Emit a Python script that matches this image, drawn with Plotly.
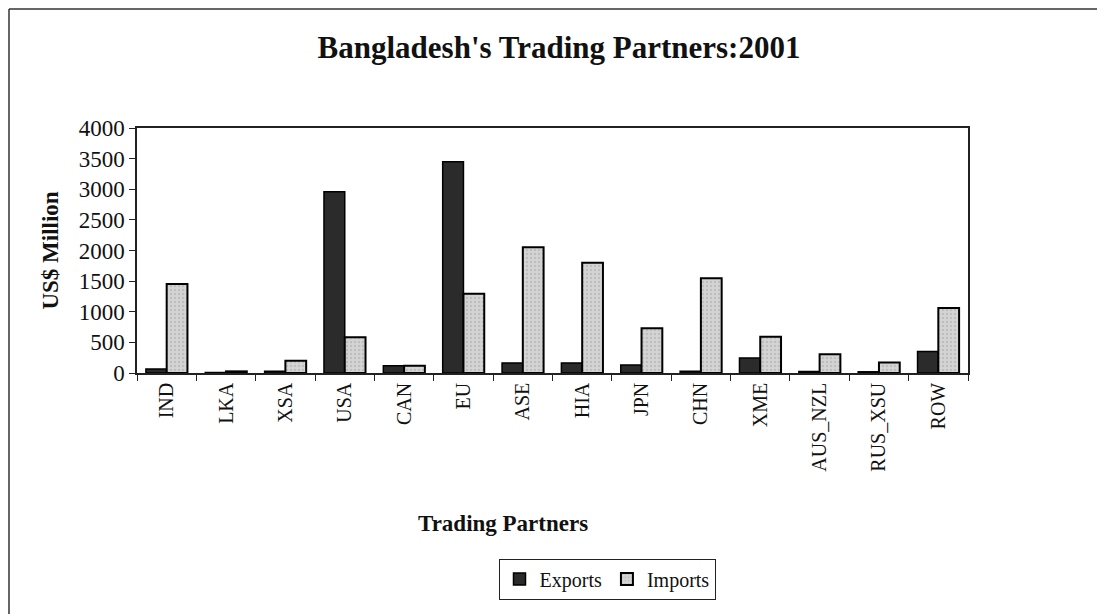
import plotly.graph_objects as go

partners = ["IND", "LKA", "XSA", "USA", "CAN", "EU", "ASE", "HIA", "JPN", "CHN",
            "XME", "AUS_NZL", "RUS_XSU", "ROW"]
exports = [65, 8, 27, 2960, 120, 3450, 164, 164, 131, 27, 245, 25, 20, 350]
imports = [1455, 27, 202, 585, 120, 1295, 2055, 1800, 730, 1545, 590, 305, 170, 1060]
y_ticks = [0, 500, 1000, 1500, 2000, 2500, 3000, 3500, 4000]

OFF = 8  # page body margin
W, H = 1105 - OFF, 614 - OFF
# plot area in page pixels
PL, PR, PT, PB = 137, 968, 128, 373
L, R, T, B = PL - OFF, PR - OFF, PT - OFF, PB - OFF

serif = "Liberation Serif, Times New Roman, serif"

fig = go.Figure()
fig.add_trace(go.Bar(
    x=partners, y=exports, name="Exports",
    marker=dict(color="#2b2b2b", line=dict(color="#000000", width=1.5)),
))
fig.add_trace(go.Bar(
    x=partners, y=imports, name="Imports",
    marker=dict(color="#cdcdcd", line=dict(color="#000000", width=2),
                pattern=dict(shape=".", fgcolor="#a8a8a8", bgcolor="#d4d4d4", size=4, solidity=0.3)),
))


def px_x(xp):
    return (xp - PL) / (PR - PL)


def px_y(yp):
    return (PB - yp) / (PB - PT)


fig.update_layout(
    width=W, height=H,
    margin=dict(l=L, r=W - R, t=T, b=H - B, autoexpand=False),
    paper_bgcolor="white", plot_bgcolor="white",
    barmode="group", bargap=0.3, bargroupgap=0.0,
    title=dict(text="<b>Bangladesh's Trading Partners:2001</b>",
               x=(559 - OFF) / W, xanchor="center", y=1 - (47 - OFF) / H, yanchor="middle",
               font=dict(family=serif, size=31, color="#111111")),
    font=dict(family=serif, color="#111111"),
    xaxis=dict(
        type="category", tickangle=-90, tickson="boundaries",
        ticks="outside", ticklen=6, tickcolor="#222222",
        showline=True, linecolor="#222222", linewidth=1.5, mirror=True,
        showgrid=False, tickfont=dict(family=serif, size=20, color="#111111"),
    ),
    yaxis=dict(
        range=[0, 4000], tickvals=y_ticks, ticks="outside", ticklen=6,
        tickcolor="#222222", showline=True, linecolor="#222222", linewidth=1.5,
        mirror=True, showgrid=False, zeroline=False,
        tickfont=dict(family=serif, size=23, color="#111111"),
        title=dict(text="<b>US$ Million</b>", font=dict(family=serif, size=23), standoff=14),
    ),
    legend=dict(
        orientation="h", x=px_x(607), xanchor="center", y=px_y(579), yanchor="middle",
        bordercolor="#222222", borderwidth=1, bgcolor="white",
        font=dict(family=serif, size=20, color="#111111"),
        itemwidth=30, tracegroupgap=0,
    ),
    showlegend=True,
)

fig.add_annotation(
    text="<b>Trading Partners</b>", xref="paper", yref="paper",
    x=px_x(503), y=px_y(523), xanchor="center", yanchor="middle",
    showarrow=False, font=dict(family=serif, size=23, color="#111111"),
)

# outer chart frame (left and top edges visible)
fig.add_shape(type="line", xref="paper", yref="paper",
              x0=px_x(OFF + 1), y0=px_y(OFF + 1), x1=px_x(OFF + 1), y1=px_y(614 + 5),
              line=dict(color="#333333", width=1.5))
fig.add_shape(type="line", xref="paper", yref="paper",
              x0=px_x(OFF + 1), y0=px_y(OFF + 1), x1=px_x(1105 + 5), y1=px_y(OFF + 1),
              line=dict(color="#333333", width=1.5))

fig.write_html("out.html")
